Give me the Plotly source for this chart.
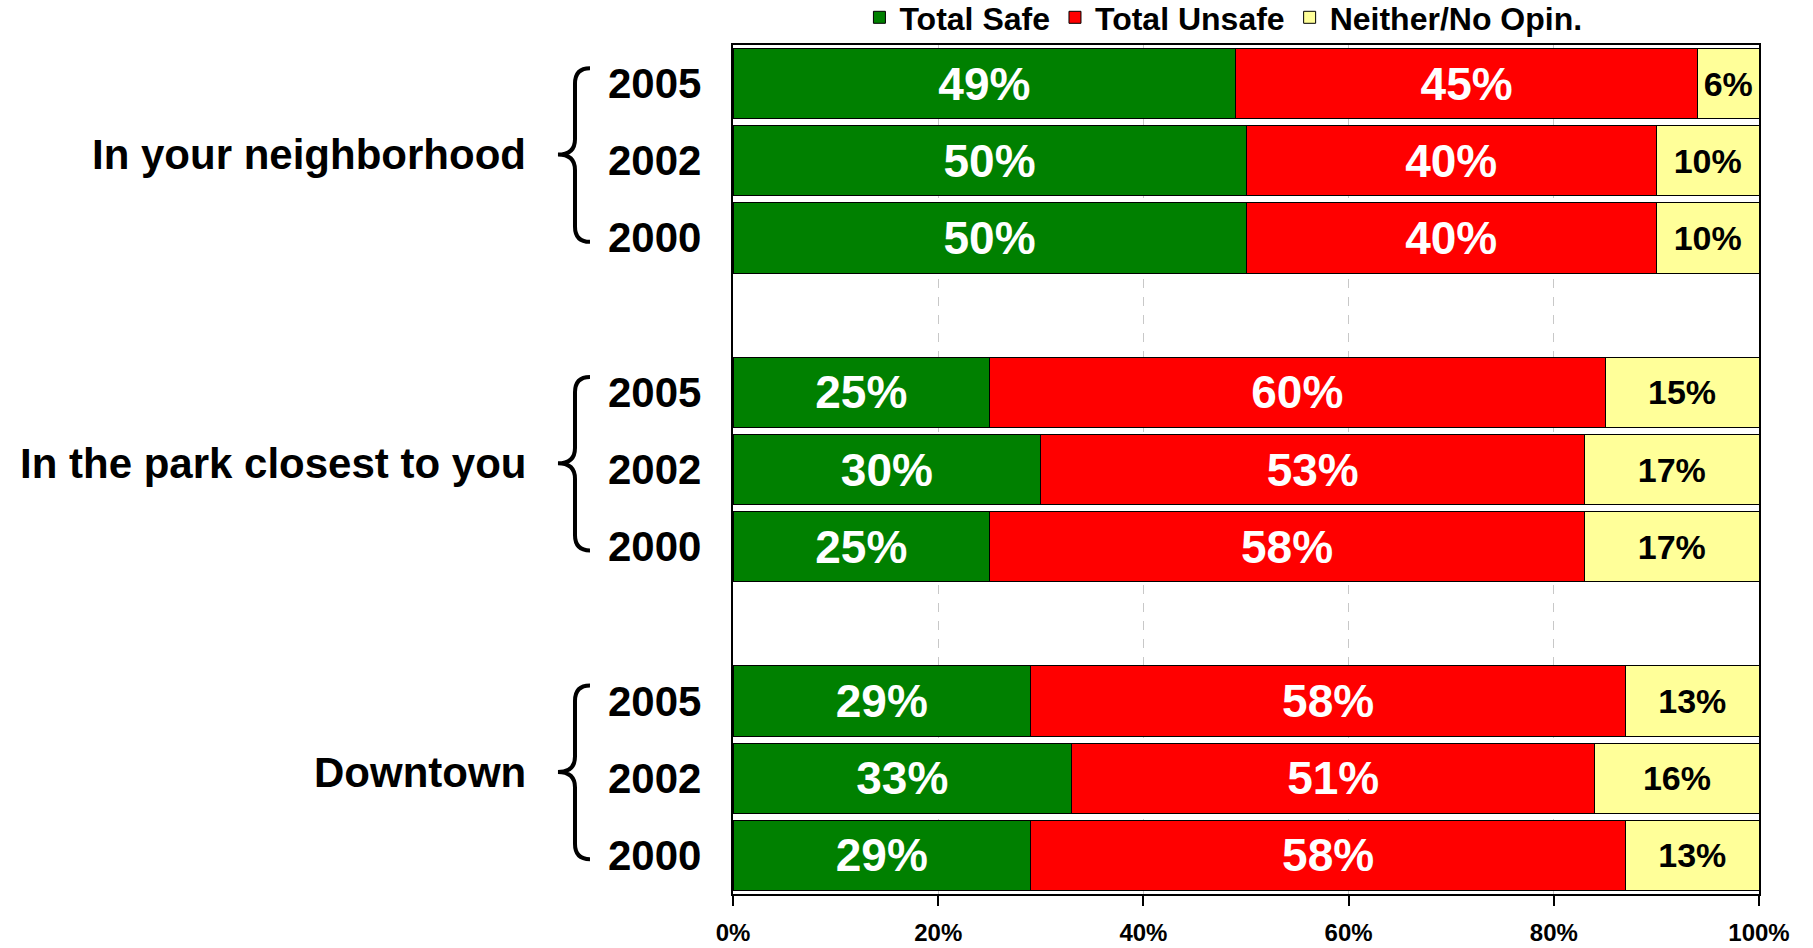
import plotly.graph_objects as go

# --- dane ---
groups = ["In your neighborhood", "In the park closest to you", "Downtown"]
years = ["2005", "2002", "2000"]

safe = [49, 50, 50, 25, 30, 25, 29, 33, 29]
unsafe = [45, 40, 40, 60, 53, 58, 58, 51, 58]
neither = [6, 10, 10, 15, 17, 17, 13, 16, 13]

x_ticks = [0, 20, 40, 60, 80, 100]
x_tick_text = ["0%", "20%", "40%", "60%", "80%", "100%"]

# kategorie osi Y: wiersze + puste odstępy między grupami
rows = [f"{g}|{y}" for g in groups for y in years]
category_order = []
for gi, g in enumerate(groups):
    category_order += [f"{g}|{y}" for y in years]
    if gi < len(groups) - 1:
        category_order.append(" " * (gi + 1))

FONT = "Liberation Sans, Arial, sans-serif"

fig = go.Figure()

series = [
    ("Total Safe", safe, "#008000", "white", 46),
    ("Total Unsafe", unsafe, "#FF0000", "white", 46),
    ("Neither/No Opin.", neither, "#FFFF99", "black", 34),
]
for name, vals, color, tcolor, tsize in series:
    fig.add_trace(go.Bar(
        y=rows, x=vals, name=name, orientation="h",
        marker=dict(color=color, line=dict(color="black", width=1)),
        text=[f"{v}%" for v in vals],
        textposition="inside", insidetextanchor="middle",
        constraintext="none",
        textfont=dict(family=FONT, size=tsize, color=tcolor, weight="bold"),
        hoverinfo="skip",
    ))

annotations = []
shapes = []
for g in groups:
    for y in years:
        annotations.append(dict(
            x=0, xref="paper", y=f"{g}|{y}", yref="y", text=f"<b>{y}</b>",
            xanchor="right", xshift=-30, showarrow=False,
            font=dict(family=FONT, size=42, color="black"),
        ))
    mid = category_order.index(f"{g}|{years[1]}")
    annotations.append(dict(
        x=0, xref="paper", y=mid - 0.08, yref="y", text=f"<b>{g}</b>",
        xanchor="right", xshift=-205, showarrow=False,
        font=dict(family=FONT, size=42, color="black"),
    ))
    # klamra
    tip, line_x, hook = -0.1706, -0.154, -0.1394
    top, bot, c, r = mid - 1.2, mid + 1.05, mid - 0.08, 0.2
    path = (f"M {hook},{top} Q {line_x},{top} {line_x},{top + r} "
            f"L {line_x},{c - r} Q {line_x},{c} {tip},{c} "
            f"Q {line_x},{c} {line_x},{c + r} "
            f"L {line_x},{bot - r} Q {line_x},{bot} {hook},{bot}")
    shapes.append(dict(type="path", path=path, xref="paper", yref="y",
                       line=dict(color="black", width=4)))

fig.update_layout(
    barmode="stack",
    bargap=0.09,
    width=1813, height=948,
    margin=dict(l=733, r=54, t=45, b=54, autoexpand=False),
    plot_bgcolor="white", paper_bgcolor="white",
    font=dict(family=FONT, color="black"),
    legend=dict(orientation="h", traceorder="normal",
                x=0.478, xanchor="center", y=1.0, yanchor="bottom",
                bgcolor="rgba(0,0,0,0)",
                font=dict(family=FONT, size=32, color="black", weight="bold"),
                itemclick=False),
    annotations=annotations,
    shapes=shapes,
    showlegend=True,
)

fig.update_xaxes(
    range=[0, 100], tickvals=x_ticks, ticktext=x_tick_text,
    showline=True, linecolor="black", linewidth=2, mirror=True,
    ticks="outside", ticklen=10, tickcolor="black", tickwidth=2,
    ticklabelstandoff=6,
    tickfont=dict(family=FONT, size=24, color="black", weight="bold"),
    showgrid=True, gridcolor="#C8C8C8", griddash="dash", gridwidth=1,
    zeroline=False,
)
fig.update_yaxes(
    type="category", categoryorder="array", categoryarray=category_order,
    range=[len(category_order) - 0.5, -0.5],
    showticklabels=False, ticks="",
    showline=True, linecolor="black", linewidth=2, mirror=True,
    showgrid=False,
)

# bez domyślnego marginesu strony, żeby wykres zaczynał się w (0,0)
fig.write_html("out.html", config={"displayModeBar": False},
               post_script="document.body.style.margin='0';")
